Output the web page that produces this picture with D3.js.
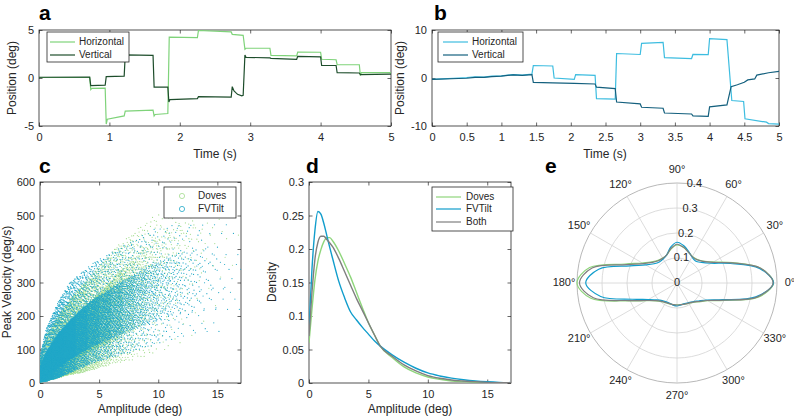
<!DOCTYPE html>
<html>
<head>
<meta charset="utf-8">
<script src="https://cdn.jsdelivr.net/npm/d3@7"></script>
<style>body{margin:0;background:#fff}</style>
</head>
<body>
<script>
// ---- panel a : eye position, doves ----
const aHorizT = [0, 0.72, 0.735, 0.75, 0.94, 0.955, 0.97, 1.21, 1.225, 1.62, 1.635, 1.65, 1.83, 1.85, 2.25, 2.265, 2.73, 2.745, 2.9, 2.925, 2.94, 3.28, 3.295, 3.66, 3.675, 4.0, 4.015, 4.22, 4.235, 4.55, 4.565, 4.58, 5.0];
const aHorizV = [0.05, 0.05, -1.2, -1.08, -1.05, -4.8, -4.3, -3.95, -3.45, -3.35, -3.95, -3.8, -3.7, 4.25, 4.2, 4.95, 4.8, 4.55, 4.45, 3.0, 3.1, 3.1, 2.35, 2.3, 2.7, 2.68, 1.95, 1.9, 1.4, 1.38, 0.25, 0.55, 0.55];
const aVertT = [0, 0.72, 0.735, 0.94, 0.955, 1.21, 1.225, 1.62, 1.635, 1.83, 1.845, 1.86, 2.25, 2.265, 2.73, 2.745, 2.77, 2.82, 2.88, 2.9, 2.925, 2.94, 3.28, 3.295, 3.66, 3.675, 4.0, 4.015, 4.22, 4.235, 4.55, 4.565, 5.0];
const aVertV = [0.08, 0.1, -0.8, -0.75, 0.15, 0.2, 2.4, 2.35, -0.95, -0.95, -2.5, -2.25, -2.15, -1.95, -2.0, -0.9, -1.35, -1.7, -1.85, -1.8, 2.4, 2.15, 2.1, 2.05, 1.95, 2.25, 2.2, 1.3, 1.3, 0.55, 0.52, 0.35, 0.4];

// ---- panel b : eye position, FVTilt ----
const bHorizT = [0, 0.38, 0.5, 0.62, 0.75, 0.86, 1.0, 1.17, 1.3, 1.44, 1.46, 1.74, 1.76, 2.05, 2.07, 2.35, 2.37, 2.64, 2.66, 3.0, 3.02, 3.33, 3.35, 3.74, 3.76, 3.98, 4.0, 4.25, 4.32, 4.49, 4.51, 4.82, 4.85, 5.0];
const bHorizV = [-0.3, 0.0, 0.1, 0.25, 0.2, 0.4, 0.45, 0.7, 0.6, 0.8, 2.6, 2.5, 0.0, -0.3, 0.7, 0.55, -4.3, -4.4, 5.1, 4.9, 7.2, 7.4, 4.25, 4.05, 4.9, 4.85, 8.2, 8.0, -4.7, -4.9, -8.5, -9.2, -9.5, -9.6];
const bVertT = [0, 0.38, 0.5, 0.62, 0.75, 0.86, 1.0, 1.17, 1.3, 1.44, 1.46, 1.74, 2.05, 2.35, 2.37, 2.64, 2.66, 3.0, 3.02, 3.33, 3.35, 3.74, 3.76, 3.98, 4.0, 4.25, 4.31, 4.4, 4.5, 4.55, 4.65, 4.68, 4.85, 5.0];
const bVertV = [-0.3, -0.1, -0.05, 0.15, 0.15, 0.3, 0.4, 0.65, 0.55, 0.7, -0.9, -1.0, -1.1, -1.25, -1.9, -2.2, -5.0, -5.4, -6.1, -6.3, -7.3, -7.5, -7.9, -8.0, -6.0, -5.6, -1.8, -1.4, -0.9, -0.4, -0.2, 0.6, 1.1, 1.4];

// ---- panel c : main sequence ----
// point counts per 1 deg amplitude bin
const cDovesCount = [1900, 2560, 2400, 1900, 1370, 890, 560, 370, 230, 145, 90, 60, 36, 20, 10, 5, 2];
const cFVCount = [2400, 2640, 2040, 1400, 1020, 780, 600, 420, 300, 216, 144, 102, 66, 42, 24, 14, 8];
// velocity quantiles (min / 10% / 50% / 90% / max) read at these amplitudes
const cKnot = [0, 0.5, 1.5, 2.5, 3.5, 4.5, 5.5, 6.5, 7.5, 8.5, 9.5, 10.5, 11.5, 12.5, 13.5, 14.5, 15.5, 16.5];
const cDovesMin = [3, 5, 15, 25, 30, 40, 50, 60, 65, 75, 85, 95, 100, 110, 150, 200, 250, 300];
const cDoves10 = [8, 20, 40, 60, 80, 100, 115, 130, 150, 170, 190, 210, 230, 260, 300, 320, 350, 380];
const cDoves50 = [20, 45, 85, 120, 150, 180, 205, 235, 265, 295, 325, 350, 380, 400, 420, 440, 450, 460];
const cDoves90 = [40, 80, 130, 175, 215, 250, 285, 325, 360, 395, 425, 450, 470, 490, 500, 510, 520, 520];
const cDovesMax = [75, 140, 200, 250, 290, 330, 370, 410, 440, 470, 500, 520, 540, 560, 570, 580, 580, 580];
const cFVMin = [3, 5, 15, 30, 45, 60, 70, 80, 90, 100, 110, 120, 130, 140, 150, 150, 150, 150];
const cFV10 = [8, 18, 45, 70, 90, 110, 125, 140, 155, 170, 180, 195, 205, 210, 215, 220, 220, 220];
const cFV50 = [20, 45, 90, 125, 155, 180, 200, 220, 240, 260, 275, 290, 300, 310, 320, 325, 330, 330];
const cFV90 = [45, 90, 145, 185, 220, 250, 270, 295, 315, 335, 355, 370, 385, 395, 400, 410, 410, 410];
const cFVMax = [80, 160, 240, 300, 330, 360, 380, 400, 420, 440, 460, 470, 480, 480, 480, 480, 480, 480];

// ---- panel d : amplitude density ----
const dAmp = [0, 0.25, 0.5, 0.75, 1, 1.25, 1.5, 1.75, 2, 2.5, 3, 3.5, 4, 4.5, 5, 5.5, 6, 7, 8, 9, 10, 11, 12, 13, 14, 15, 16, 17];
const dDoves = [0.06, 0.11, 0.154, 0.182, 0.199, 0.211, 0.217, 0.217, 0.212, 0.197, 0.178, 0.158, 0.135, 0.112, 0.09, 0.072, 0.055, 0.038, 0.024, 0.015, 0.009, 0.0055, 0.003, 0.002, 0.001, 0.0006, 0.0003, 0.0002];
const dFVTilt = [0.08, 0.17, 0.228, 0.256, 0.252, 0.238, 0.22, 0.202, 0.185, 0.152, 0.127, 0.106, 0.094, 0.083, 0.073, 0.063, 0.055, 0.042, 0.031, 0.022, 0.015, 0.0105, 0.0072, 0.0048, 0.003, 0.0018, 0.001, 0.0006];
const dBoth = [0.07, 0.135, 0.185, 0.21, 0.219, 0.219, 0.214, 0.209, 0.203, 0.186, 0.166, 0.146, 0.126, 0.108, 0.09, 0.072, 0.055, 0.04, 0.027, 0.018, 0.011, 0.007, 0.0045, 0.003, 0.0018, 0.001, 0.0006, 0.0004];

// ---- panel e : direction density (polar) ----
const eAngle = d3.range(0, 360, 10);
const eDoves = [0.386, 0.34, 0.238, 0.168, 0.137, 0.124, 0.123, 0.132, 0.145, 0.152, 0.138, 0.12, 0.115, 0.118, 0.131, 0.16, 0.222, 0.355, 0.40, 0.35, 0.21, 0.142, 0.111, 0.097, 0.091, 0.089, 0.088, 0.087, 0.088, 0.09, 0.094, 0.101, 0.117, 0.142, 0.203, 0.33];
const eFVTilt = [0.386, 0.335, 0.228, 0.158, 0.128, 0.115, 0.12, 0.135, 0.152, 0.163, 0.146, 0.12, 0.111, 0.11, 0.12, 0.145, 0.2, 0.318, 0.365, 0.31, 0.19, 0.132, 0.105, 0.092, 0.087, 0.086, 0.09, 0.092, 0.089, 0.088, 0.091, 0.098, 0.112, 0.136, 0.195, 0.32];
const eBoth = [0.384, 0.34, 0.235, 0.165, 0.135, 0.122, 0.122, 0.132, 0.146, 0.155, 0.14, 0.12, 0.114, 0.116, 0.128, 0.155, 0.215, 0.345, 0.39, 0.34, 0.205, 0.14, 0.11, 0.096, 0.09, 0.088, 0.088, 0.088, 0.088, 0.09, 0.093, 0.10, 0.115, 0.14, 0.2, 0.325];
const eAngleTicks = d3.range(0, 360, 30);
const eRTicks = [0, 0.1, 0.2, 0.3, 0.4];

const font = "'Liberation Sans', Arial, Helvetica, sans-serif";
const ink = "#262626";
const green = "#8fd67c", blue = "#119dcc", grey = "#7f7f7f";

const svg = d3.select("body").append("svg")
    .attr("width", 794).attr("height", 419)
    .style("font-family", font);

function boxAxes(x, y, xTicks, yTicks, xFmt, yFmt) {
    const g = svg.append("g");
    const [xa, xb] = x.range(), [yb, ya] = y.range();
    const tk = -3.5;
    g.append("g").attr("transform", `translate(0,${yb})`)
        .call(d3.axisBottom(x).tickValues(xTicks).tickSizeInner(tk).tickSizeOuter(0).tickPadding(7).tickFormat(xFmt));
    g.append("g").attr("transform", `translate(0,${ya})`)
        .call(d3.axisTop(x).tickValues(xTicks).tickSizeInner(tk).tickSizeOuter(0).tickFormat(""));
    g.append("g").attr("transform", `translate(${xa},0)`)
        .call(d3.axisLeft(y).tickValues(yTicks).tickSizeInner(tk).tickSizeOuter(0).tickPadding(5).tickFormat(yFmt));
    g.append("g").attr("transform", `translate(${xb},0)`)
        .call(d3.axisRight(y).tickValues(yTicks).tickSizeInner(tk).tickSizeOuter(0).tickFormat(""));
    g.selectAll(".domain").remove();
    g.selectAll(".tick line").attr("stroke", ink).attr("stroke-width", 0.7);
    g.selectAll(".tick text").attr("fill", ink).style("font-size", "11px").style("font-family", font);
    g.append("rect").attr("x", xa).attr("y", ya).attr("width", xb - xa).attr("height", yb - ya)
        .attr("fill", "none").attr("stroke", ink).attr("stroke-width", 0.8);
    return g;
}

function label(x, y, str, rot, size, weight) {
    svg.append("text")
        .attr("transform", `translate(${x},${y})` + (rot ? ` rotate(${rot})` : ""))
        .attr("text-anchor", "middle").attr("dominant-baseline", "middle")
        .attr("fill", ink).style("font-size", (size || 12) + "px")
        .style("font-weight", weight || "normal")
        .text(str);
}

function letter(x, y, str) {
    svg.append("text").attr("x", x).attr("y", y).attr("fill", "#000")
        .style("font-size", "21px").style("font-weight", "bold").text(str);
}

function clip(id, x, y) {
    svg.append("clipPath").attr("id", id).append("rect")
        .attr("x", x.range()[0]).attr("y", y.range()[1])
        .attr("width", x.range()[1] - x.range()[0]).attr("height", y.range()[0] - y.range()[1]);
    return `url(#${id})`;
}

function legend(x, y, w, h, items, kind) {
    const g = svg.append("g");
    g.append("rect").attr("x", x).attr("y", y).attr("width", w).attr("height", h)
        .attr("fill", "#fff").attr("stroke", ink).attr("stroke-width", 0.8);
    items.forEach(it => {
        if (kind === "circle") {
            g.append("circle").attr("cx", it.mx).attr("cy", it.y).attr("r", 2.6)
                .attr("fill", "none").attr("stroke", it.color).attr("stroke-width", 0.8);
        } else {
            g.append("line").attr("x1", it.mx).attr("x2", it.mx + 25).attr("y1", it.y).attr("y2", it.y)
                .attr("stroke", it.color).attr("stroke-width", 1.2);
        }
        g.append("text").attr("x", it.tx).attr("y", it.y).attr("dominant-baseline", "middle")
            .attr("fill", ink).style("font-size", "10px").text(it.name);
    });
}

const zip = (xs, ys) => xs.map((v, i) => ({x: v, y: ys[i]}));

// ===== panel a =====
const xA = d3.scaleLinear([0, 5], [39, 391]);
const yA = d3.scaleLinear([-5, 5], [126, 30]);
boxAxes(xA, yA, [0, 1, 2, 3, 4, 5], [-5, 0, 5], d => String(d), d => String(d));
const lineA = d3.line().x(d => xA(d.x)).y(d => yA(d.y));
const gA = svg.append("g").attr("clip-path", clip("clipA", xA, yA));
gA.append("path").attr("d", lineA(zip(aHorizT, aHorizV))).attr("fill", "none").attr("stroke", "#7fd37a").attr("stroke-width", 1.2);
gA.append("path").attr("d", lineA(zip(aVertT, aVertV))).attr("fill", "none").attr("stroke", "#1d4d2b").attr("stroke-width", 1.2);
legend(47, 32, 82, 30, [
    {name: "Horizontal", color: "#7fd37a", mx: 50, tx: 79, y: 42},
    {name: "Vertical", color: "#1d4d2b", mx: 50, tx: 79, y: 55}
]);
label(13, 78, "Position (deg)", -90);
label(215, 155, "Time (s)");
letter(39, 20, "a");

// ===== panel b =====
const xB = d3.scaleLinear([0, 5], [432, 779]);
const yB = d3.scaleLinear([-10, 10], [126, 30]);
boxAxes(xB, yB, [0, 0.5, 1, 1.5, 2, 2.5, 3, 3.5, 4, 4.5, 5], [-10, 0, 10], d => String(d), d => String(d));
const lineB = d3.line().x(d => xB(d.x)).y(d => yB(d.y));
const gB = svg.append("g").attr("clip-path", clip("clipB", xB, yB));
gB.append("path").attr("d", lineB(zip(bHorizT, bHorizV))).attr("fill", "none").attr("stroke", "#3dbde0").attr("stroke-width", 1.2);
gB.append("path").attr("d", lineB(zip(bVertT, bVertV))).attr("fill", "none").attr("stroke", "#14607e").attr("stroke-width", 1.2);
legend(438, 32, 85, 30, [
    {name: "Horizontal", color: "#3dbde0", mx: 443, tx: 472, y: 42},
    {name: "Vertical", color: "#14607e", mx: 443, tx: 472, y: 55}
]);
label(401, 78, "Position (deg)", -90);
label(605, 155, "Time (s)");
letter(434, 20, "b");

// ===== panel c =====
const xC = d3.scaleLinear([0, 17], [40, 241]);
const yC = d3.scaleLinear([0, 600], [383, 182]);
boxAxes(xC, yC, [0, 5, 10, 15], [0, 100, 200, 300, 400, 500, 600], d => String(d), d => String(d));

// each bin's points are placed deterministically (Halton 2/3); the read quantile
// curves are followed smoothly across amplitude so the cloud has no bin steps
function halton(i, b) { let f = 1, r = 0; while (i > 0) { f /= b; r += f * (i % b); i = Math.floor(i / b); } return r; }
function binPoints(count, quants, offset) {
    const curves = quants.map(arr => d3.scaleLinear(cKnot, arr).clamp(true));
    const pts = [];
    count.forEach((n, k) => {
        for (let i = 1; i <= n; i++) {
            const a = k + halton(i + offset, 2);
            const q = d3.scaleLinear([0, 0.1, 0.5, 0.9, 1], curves.map(c => c(a)));
            pts.push({a: a, v: q(halton(i + offset, 3))});
        }
    });
    return pts;
}
const dovesPts = binPoints(cDovesCount, [cDovesMin, cDoves10, cDoves50, cDoves90, cDovesMax], 17);
const fvPts = binPoints(cFVCount, [cFVMin, cFV10, cFV50, cFV90, cFVMax], 311);
const gC = svg.append("g").attr("clip-path", clip("clipC", xC, yC));
gC.append("g").selectAll("circle").data(dovesPts).join("circle")
    .attr("cx", d => xC(d.a)).attr("cy", d => yC(d.v)).attr("r", 0.6).attr("fill", "#a3dc8e");
gC.append("g").selectAll("circle").data(fvPts).join("circle")
    .attr("cx", d => xC(d.a)).attr("cy", d => yC(d.v)).attr("r", 0.6).attr("fill", "#22a8c8");
legend(164, 187, 72, 31, [
    {name: "Doves", color: "#a3dc8e", mx: 182, tx: 198, y: 196},
    {name: "FVTilt", color: "#22a8c8", mx: 182, tx: 198, y: 209}
], "circle");
label(8, 282, "Peak Velocity (deg/s)", -90);
label(140, 410, "Amplitude (deg)");
letter(39, 173, "c");

// ===== panel d =====
const xD = d3.scaleLinear([0, 17], [309, 511]);
const yD = d3.scaleLinear([0, 0.3], [383, 182]);
boxAxes(xD, yD, [0, 5, 10, 15], [0, 0.05, 0.1, 0.15, 0.2, 0.25, 0.3], d => String(d), d => String(d));
const lineD = d3.line().x(d => xD(d.x)).y(d => yD(d.y)).curve(d3.curveMonotoneX);
const gD = svg.append("g").attr("clip-path", clip("clipD", xD, yD));
[[dDoves, green], [dFVTilt, blue], [dBoth, grey]].forEach(([vals, col]) => {
    gD.append("path").attr("d", lineD(zip(dAmp, vals))).attr("fill", "none").attr("stroke", col).attr("stroke-width", 1.4);
});
legend(432, 187, 81, 44, [
    {name: "Doves", color: green, mx: 436, tx: 466, y: 197},
    {name: "FVTilt", color: blue, mx: 436, tx: 466, y: 209},
    {name: "Both", color: grey, mx: 436, tx: 466, y: 222}
]);
label(273, 282, "Density", -90);
label(410, 410, "Amplitude (deg)");
letter(306, 173, "d");

// ===== panel e =====
const rE = d3.scaleLinear([0, 0.4], [0, 100]);
const gE = svg.append("g").attr("transform", "translate(677,283)");
const rad = a => a * Math.PI / 180;
eRTicks.slice(1).forEach(r => {
    gE.append("circle").attr("r", rE(r)).attr("fill", "none")
        .attr("stroke", r === 0.4 ? "#a6a6a6" : "#d3d3d3").attr("stroke-width", 0.8);
});
eAngleTicks.forEach(a => {
    gE.append("line").attr("x1", 0).attr("y1", 0)
        .attr("x2", rE(0.4) * Math.cos(rad(a))).attr("y2", -rE(0.4) * Math.sin(rad(a)))
        .attr("stroke", "#d3d3d3").attr("stroke-width", 0.8);
    gE.append("text").attr("x", 113 * Math.cos(rad(a))).attr("y", -113 * Math.sin(rad(a)))
        .attr("text-anchor", "middle").attr("dominant-baseline", "middle")
        .attr("fill", ink).style("font-size", "11px").text(a + "°");
});
const radial = d3.lineRadial()
    .angle(d => Math.PI / 2 - rad(d.x)).radius(d => rE(d.y))
    .curve(d3.curveCatmullRomClosed);
[[eDoves, green], [eFVTilt, blue], [eBoth, grey]].forEach(([vals, col]) => {
    gE.append("path").attr("d", radial(zip(eAngle, vals))).attr("fill", "none").attr("stroke", col).attr("stroke-width", 1.2);
});
eRTicks.forEach(r => {
    gE.append("text").attr("x", rE(r) * Math.cos(rad(80))).attr("y", -rE(r) * Math.sin(rad(80)))
        .attr("text-anchor", "middle").attr("dominant-baseline", "middle")
        .attr("fill", ink).style("font-size", "11px").text(String(r));
});
letter(545, 173, "e");
</script>
</body>
</html>
